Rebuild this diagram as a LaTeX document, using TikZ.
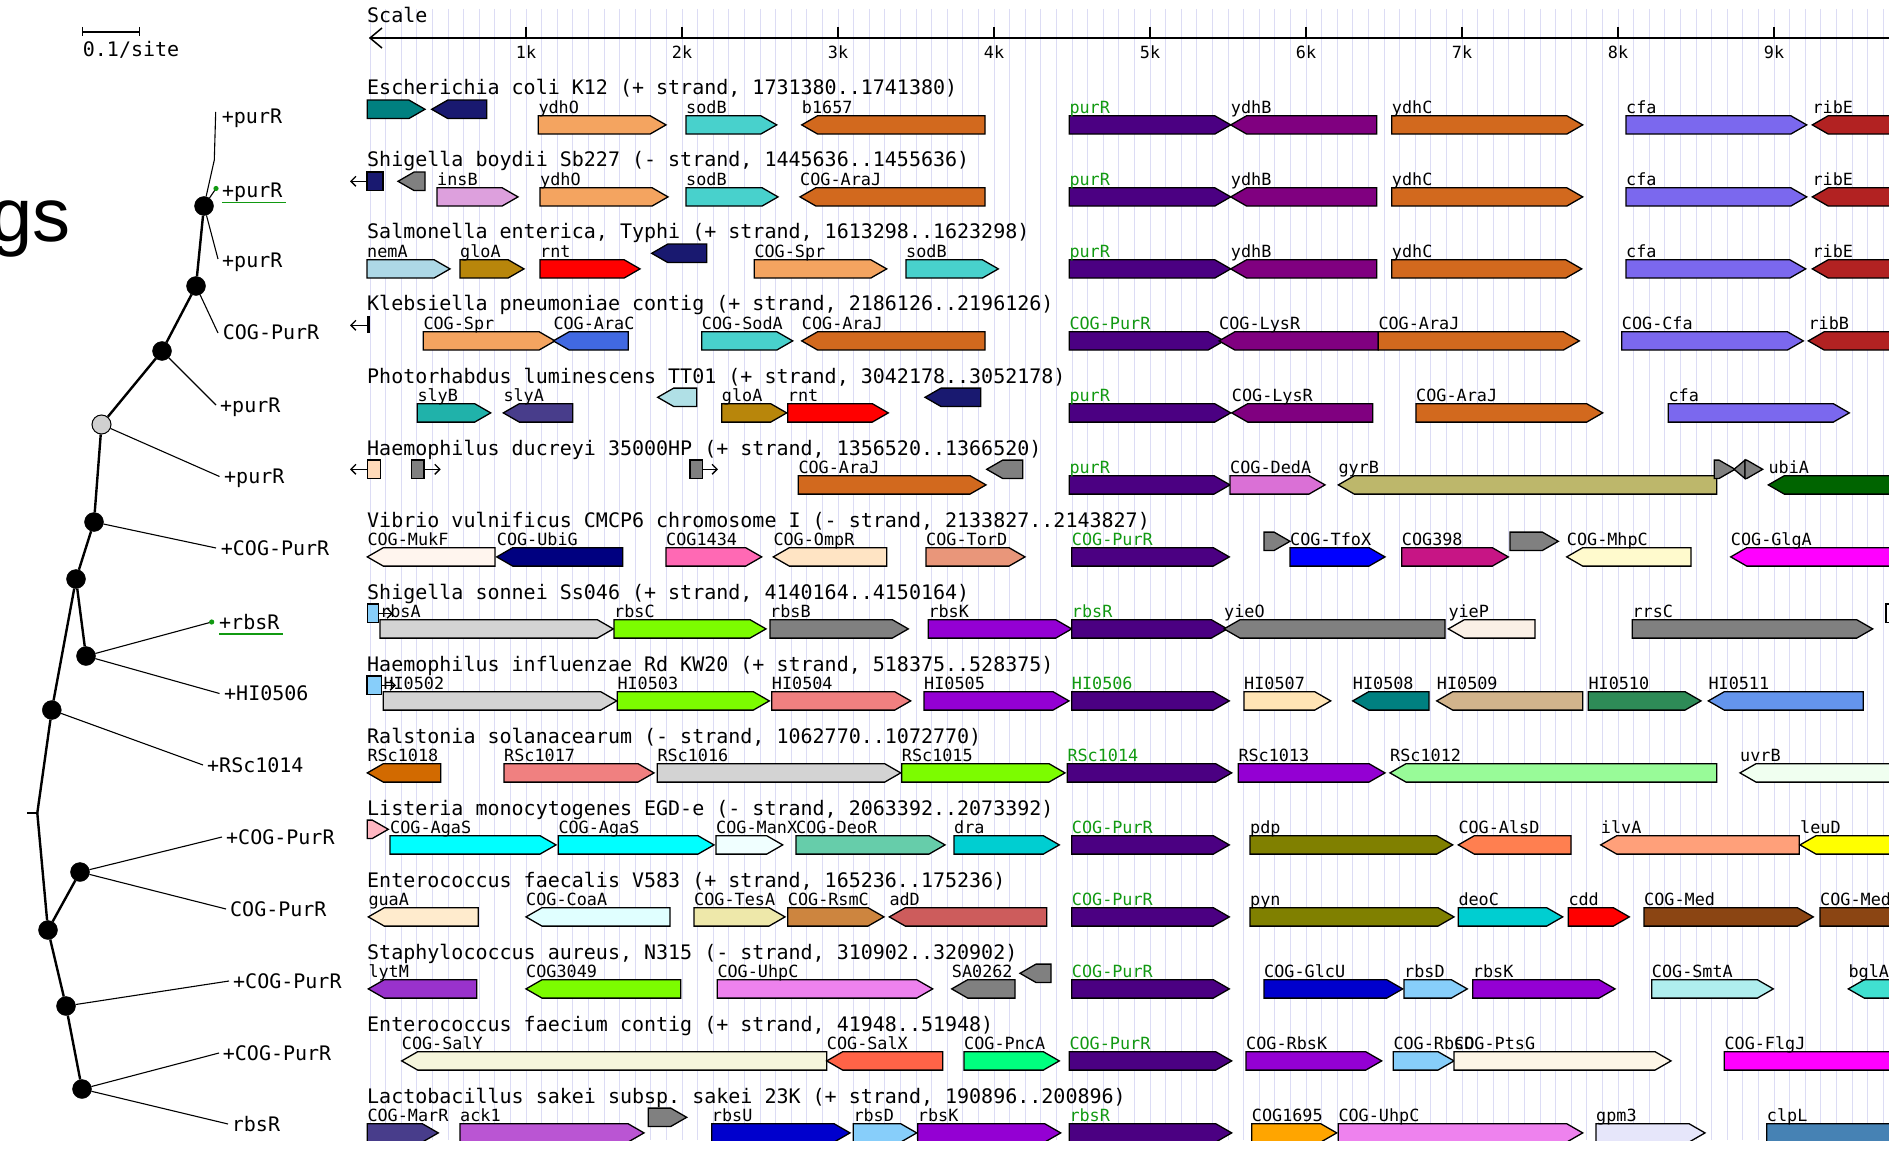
\documentclass[tikz,border=0pt]{standalone}
\usepackage{fontspec}
\setmonofont{DejaVu Sans Mono}
\newfontfamily\bigsans{Liberation Sans}
\usetikzlibrary{arrows.meta}
\definecolor{gridc}{HTML}{DCDCF4}
\definecolor{cgreen}{HTML}{119911}
\definecolor{cteal}{HTML}{008080}
\definecolor{cmidnight}{HTML}{191970}
\definecolor{csandy}{HTML}{F4A460}
\definecolor{cmturq}{HTML}{48D1CC}
\definecolor{cchoc}{HTML}{D2691E}
\definecolor{cindigo}{HTML}{4B0082}
\definecolor{cpurple}{HTML}{800080}
\definecolor{cmslate}{HTML}{7B68EE}
\definecolor{cfire}{HTML}{B22222}
\definecolor{cplum}{HTML}{DDA0DD}
\definecolor{cgray}{HTML}{808080}
\definecolor{clblue}{HTML}{ADD8E6}
\definecolor{cdgold}{HTML}{B8860B}
\definecolor{cred}{HTML}{FF0000}
\definecolor{croyal}{HTML}{4169E1}
\definecolor{clsea}{HTML}{20B2AA}
\definecolor{cdslate}{HTML}{483D8B}
\definecolor{cpowder}{HTML}{B0E0E6}
\definecolor{cpeach}{HTML}{FFDAB9}
\definecolor{corchid}{HTML}{DA70D6}
\definecolor{cdkhaki}{HTML}{BDB76B}
\definecolor{cdgreen}{HTML}{006400}
\definecolor{cseash}{HTML}{FFF5EE}
\definecolor{cnavy}{HTML}{000080}
\definecolor{chotp}{HTML}{FF69B4}
\definecolor{cbisque}{HTML}{FFE4C4}
\definecolor{cdsalm}{HTML}{E9967A}
\definecolor{cblue}{HTML}{0000FF}
\definecolor{cmvr}{HTML}{C71585}
\definecolor{clemon}{HTML}{FFFACD}
\definecolor{cmagenta}{HTML}{FF00FF}
\definecolor{clsky}{HTML}{87CEFA}
\definecolor{clgray}{HTML}{D3D3D3}
\definecolor{clawn}{HTML}{7CFC00}
\definecolor{cdviolet}{HTML}{9400D3}
\definecolor{clinen}{HTML}{FAF0E6}
\definecolor{clcoral}{HTML}{F08080}
\definecolor{cmocc}{HTML}{FFE4B5}
\definecolor{ctan}{HTML}{D2B48C}
\definecolor{cseag}{HTML}{2E8B57}
\definecolor{ccornf}{HTML}{6495ED}
\definecolor{cpaleg}{HTML}{98FB98}
\definecolor{choney}{HTML}{F0FFF0}
\definecolor{clpink}{HTML}{FFB6C1}
\definecolor{ccyan}{HTML}{00FFFF}
\definecolor{cazure}{HTML}{F0FFFF}
\definecolor{cmaqua}{HTML}{66CDAA}
\definecolor{cdturq}{HTML}{00CED1}
\definecolor{colive}{HTML}{808000}
\definecolor{ccoral}{HTML}{FF7F50}
\definecolor{clsalm}{HTML}{FFA07A}
\definecolor{cyellow}{HTML}{FFFF00}
\definecolor{cblanch}{HTML}{FFEBCD}
\definecolor{clcyan}{HTML}{E0FFFF}
\definecolor{cpgold}{HTML}{EEE8AA}
\definecolor{cperu}{HTML}{CD853F}
\definecolor{cindred}{HTML}{CD5C5C}
\definecolor{csbrown}{HTML}{8B4513}
\definecolor{cdorch}{HTML}{9932CC}
\definecolor{cviolet}{HTML}{EE82EE}
\definecolor{cmblue}{HTML}{0000CD}
\definecolor{cpturq}{HTML}{AFEEEE}
\definecolor{cturq}{HTML}{40E0D0}
\definecolor{cbeige}{HTML}{F5F5DC}
\definecolor{ctomato}{HTML}{FF6347}
\definecolor{cspring}{HTML}{00FF7F}
\definecolor{coldl}{HTML}{FDF5E6}
\definecolor{cmorch}{HTML}{BA55D3}
\definecolor{corange}{HTML}{FFA500}
\definecolor{clavender}{HTML}{E6E6FA}
\definecolor{csteel}{HTML}{4682B4}
\definecolor{crsor}{HTML}{D26A00}
\definecolor{cnodeg}{HTML}{D0D0D0}
\newcounter{glc}
\tikzset{
  gene/.style={draw=black,line width=1.3pt,line join=miter},
  glab/.style={font=\ttfamily\fontsize{16.8}{18}\selectfont,inner sep=0pt,anchor=base west},
  ttl/.style={font=\ttfamily\fontsize{20}{22}\selectfont,inner sep=0pt,anchor=base west},
  tlab/.style={ttl},
  tnode/.style={circle,fill=black,draw=black,minimum size=19pt,inner sep=0pt},
  tnodeg/.style={tnode,fill=cnodeg,line width=1pt},
  tedge/.style={line width=2.4pt},
  ledge/.style={line width=1.1pt},
  gridln/.style={draw=gridc,line width=1pt},
  marr/.style={line width=1.3pt,-{Straight Barb[length=5pt,width=10pt]}},
  axisln/.style={line width=1.5pt},
}
\newcommand\shR[4]{\pgfmathsetmacro\gtl{min(16,(#2)-(#1))}%
  \filldraw[gene,fill=#4] (#1,#3-9.2) -- ({#2-\gtl},#3-9.2) -- (#2,#3) -- ({#2-\gtl},#3+9.2) -- (#1,#3+9.2) -- cycle;}
\newcommand\shL[4]{\pgfmathsetmacro\gtl{min(16,(#2)-(#1))}%
  \filldraw[gene,fill=#4] (#2,#3-9.2) -- ({#1+\gtl},#3-9.2) -- (#1,#3) -- ({#1+\gtl},#3+9.2) -- (#2,#3+9.2) -- cycle;}
\newcommand\GR[6][black]{\pgfmathsetmacro\gyt{15.3+72*#2}\shR{#3}{#4}{\gyt+37.6}{#5}%
  \stepcounter{glc}\node[glab,text=#1] (g\arabic{glc}) at (#3,\gyt+26.3) {#6};}
\newcommand\GL[6][black]{\pgfmathsetmacro\gyt{15.3+72*#2}\shL{#3}{#4}{\gyt+37.6}{#5}%
  \stepcounter{glc}\node[glab,text=#1] (g\arabic{glc}) at (#3,\gyt+26.3) {#6};}
\newcommand\UR[4]{\pgfmathsetmacro\gyt{15.3+72*#1}\shR{#2}{#3}{\gyt+22}{#4}}
\newcommand\UL[4]{\pgfmathsetmacro\gyt{15.3+72*#1}\shL{#2}{#3}{\gyt+22}{#4}}
\newcommand\UB[4]{\pgfmathsetmacro\gyt{15.3+72*#1}\filldraw[gene,fill=#4] (#2,\gyt+12.8) rectangle (#3,\gyt+31.2);}
\newcommand\LA[1]{\pgfmathsetmacro\gyt{15.3+72*#1}\draw[marr] (367,\gyt+22) -- (350,\gyt+22);}
\newcommand\RA[3]{\pgfmathsetmacro\gyt{15.3+72*#1}\draw[marr] (#2,\gyt+22) -- (#3,\gyt+22);}
\begin{document}
\begin{tikzpicture}[x=1pt,y=-1pt]
\useasboundingbox (0,0) rectangle (1889,1155);
\fill[white] (0,0) rectangle (1889,1155);
% big cut-off slide text
\node[anchor=base east,inner sep=0pt,font=\bigsans\fontsize{76}{80}\selectfont] (gs) at (70.8,242) {gs};
% grid lines
\foreach \i in {0,...,97} \draw[gridln] ({370+15.6*\i},9) -- ({370+15.6*\i},1140);
% scale axis
\node[ttl] (scl) at (367,23) {Scale};
\draw[axisln] (382,28) -- (370,38) -- (382,48);
\draw[axisln] (370,38) -- (1889,38);
\foreach \k in {1,...,9} {
  \draw[axisln] ({370+156*\k},27) -- ({370+156*\k},39);
  \node[glab,anchor=base] (tk\k) at ({370+156*\k},59) {\k k};
}
% titles
\node[ttl] (t1) at (367,95) {Escherichia coli K12 (+ strand, 1731380..1741380)};
\node[ttl] (t2) at (367,167) {Shigella boydii Sb227 (- strand, 1445636..1455636)};
\node[ttl] (t3) at (367,239) {Salmonella enterica, Typhi (+ strand, 1613298..1623298)};
\node[ttl] (t4) at (367,311) {Klebsiella pneumoniae contig (+ strand, 2186126..2196126)};
\node[ttl] (t5) at (367,383) {Photorhabdus luminescens TT01 (+ strand, 3042178..3052178)};
\node[ttl] (t6) at (367,455) {Haemophilus ducreyi 35000HP (+ strand, 1356520..1366520)};
\node[ttl] (t7) at (367,527) {Vibrio vulnificus CMCP6 chromosome I (- strand, 2133827..2143827)};
\node[ttl] (t8) at (367,599) {Shigella sonnei Ss046 (+ strand, 4140164..4150164)};
\node[ttl] (t9) at (367,671) {Haemophilus influenzae Rd KW20 (+ strand, 518375..528375)};
\node[ttl] (t10) at (367,743) {Ralstonia solanacearum (- strand, 1062770..1072770)};
\node[ttl] (t11) at (367,815) {Listeria monocytogenes EGD-e (- strand, 2063392..2073392)};
\node[ttl] (t12) at (367,887) {Enterococcus faecalis V583 (+ strand, 165236..175236)};
\node[ttl] (t13) at (367,959) {Staphylococcus aureus, N315 (- strand, 310902..320902)};
\node[ttl] (t14) at (367,1031) {Enterococcus faecium contig (+ strand, 41948..51948)};
\node[ttl] (t15) at (367,1103) {Lactobacillus sakei subsp. sakei 23K (+ strand, 190896..200896)};
\begin{scope}
\clip (300,0) rectangle (1889,1140);
% row 1
\UR{1}{367.3}{425}{cteal}
\UL{1}{431.7}{486.7}{cmidnight}
\GR{1}{538.3}{666}{csandy}{ydhO}
\GR{1}{686}{776.7}{cmturq}{sodB}
\GL{1}{801.7}{985}{cchoc}{b1657}
\GR[cgreen]{1}{1069.3}{1230.7}{cindigo}{purR}
\GL{1}{1230.7}{1376.7}{cpurple}{ydhB}
\GR{1}{1391.7}{1582.7}{cchoc}{ydhC}
\GR{1}{1626}{1806.7}{cmslate}{cfa}
\GL{1}{1812.3}{2000}{cfire}{ribE}
% row 2
\LA{2}
\UB{2}{367}{383}{cmidnight}
\UL{2}{398}{425}{cgray}
\GR{2}{437}{518}{cplum}{insB}
\GR{2}{540}{668}{csandy}{ydhO}
\GR{2}{686}{778}{cmturq}{sodB}
\GL{2}{800}{985}{cchoc}{COG-AraJ}
\GR[cgreen]{2}{1069.3}{1230.7}{cindigo}{purR}
\GL{2}{1230.7}{1376.7}{cpurple}{ydhB}
\GR{2}{1391.7}{1582.7}{cchoc}{ydhC}
\GR{2}{1626}{1806.7}{cmslate}{cfa}
\GL{2}{1812.3}{2000}{cfire}{ribE}
% row 3
\GR{3}{367}{450}{clblue}{nemA}
\GR{3}{460}{524}{cdgold}{gloA}
\GR{3}{540}{640}{cred}{rnt}
\UL{3}{651.7}{706.7}{cmidnight}
\GR{3}{754.3}{886.7}{csandy}{COG-Spr}
\GR{3}{906}{998.3}{cmturq}{sodB}
\GR[cgreen]{3}{1069.3}{1230.7}{cindigo}{purR}
\GL{3}{1230.7}{1376.7}{cpurple}{ydhB}
\GR{3}{1391.7}{1581.7}{cchoc}{ydhC}
\GR{3}{1626}{1805.7}{cmslate}{cfa}
\GL{3}{1812.3}{2000}{cfire}{ribE}
% row 4
\LA{4}
\draw[line width=2.6pt] (368.5,316) -- (368.5,333);
\GR{4}{423.3}{555}{csandy}{COG-Spr}
\GL{4}{553.3}{628.3}{croyal}{COG-AraC}
\GR{4}{701.7}{792.7}{cmturq}{COG-SodA}
\GL{4}{801.7}{985}{cchoc}{COG-AraJ}
\GR[cgreen]{4}{1069.3}{1224}{cindigo}{COG-PurR}
\GL{4}{1219}{1378.3}{cpurple}{COG-LysR}
\GR{4}{1378.3}{1579.3}{cchoc}{COG-AraJ}
\GR{4}{1621.7}{1803.3}{cmslate}{COG-Cfa}
\GL{4}{1808.3}{2000}{cfire}{ribB}
% row 5
\GR{5}{417.3}{490.7}{clsea}{slyB}
\GL{5}{503.3}{572.7}{cdslate}{slyA}
\UL{5}{657.7}{696.7}{cpowder}
\GR{5}{721.7}{786.7}{cdgold}{gloA}
\GR{5}{787.7}{888.3}{cred}{rnt}
\UL{5}{925}{980.7}{cmidnight}
\GR[cgreen]{5}{1069.3}{1230.7}{cindigo}{purR}
\GL{5}{1231.7}{1372.7}{cpurple}{COG-LysR}
\GR{5}{1416}{1602.7}{cchoc}{COG-AraJ}
\GR{5}{1668.3}{1849.3}{cmslate}{cfa}
% row 6
\LA{6}
\UB{6}{367.3}{380.7}{cpeach}
\UB{6}{411.7}{424}{cgray}
\RA{6}{424}{440.7}
\UB{6}{690}{702.3}{cgray}
\RA{6}{702.3}{718}
\GR{6}{798.3}{986}{cchoc}{COG-AraJ}
\UL{6}{986.7}{1022.7}{cgray}
\GR[cgreen]{6}{1069.3}{1230}{cindigo}{purR}
\GR{6}{1230}{1325}{corchid}{COG-DedA}
\GL{6}{1338.3}{1716.7}{cdkhaki}{gyrB}
\UR{6}{1714.3}{1735}{cgray}
\UL{6}{1734}{1745}{cgray}
\UR{6}{1745}{1762.7}{cgray}
\GL{6}{1768.3}{2000}{cdgreen}{ubiA}
% row 7
\GL{7}{367.3}{495}{cseash}{COG-MukF}
\GL{7}{496.7}{622.7}{cnavy}{COG-UbiG}
\GR{7}{666}{761.7}{chotp}{COG1434}
\GL{7}{773.3}{886.7}{cbisque}{COG-OmpR}
\GR{7}{926}{1025}{cdsalm}{COG-TorD}
\GR[cgreen]{7}{1071.7}{1229.3}{cindigo}{COG-PurR}
\UR{7}{1264}{1290}{cgray}
\GR{7}{1290}{1385}{cblue}{COG-TfoX}
\GR{7}{1401.7}{1508.3}{cmvr}{COG398}
\UR{7}{1510}{1558.3}{cgray}
\GL{7}{1566.7}{1691}{clemon}{COG-MhpC}
\GL{7}{1730.7}{2000}{cmagenta}{COG-GlgA}
% row 8
\UB{8}{367.3}{378.3}{clsky}
\GR{8}{380}{613.3}{clgray}{rbsA}
\RA{8}{378.3}{393}
\GR{8}{614}{766}{clawn}{rbsC}
\GR{8}{770}{908.3}{cgray}{rbsB}
\GR{8}{928.3}{1071.7}{cdviolet}{rbsK}
\GR[cgreen]{8}{1071.7}{1227.3}{cindigo}{rbsR}
\GL{8}{1224}{1445}{cgray}{yieO}
\GL{8}{1448.3}{1535}{clinen}{yieP}
\GR{8}{1632.3}{1872.7}{cgray}{rrsC}
\UB{8}{1886}{1900}{white}
% row 9
\UB{9}{367}{381.7}{clsky}
\GR{9}{383.3}{616.7}{clgray}{HI0502}
\RA{9}{381.7}{396}
\GR{9}{617.3}{769.3}{clawn}{HI0503}
\GR{9}{771.7}{910.7}{clcoral}{HI0504}
\GR{9}{924}{1069}{cdviolet}{HI0505}
\GR[cgreen]{9}{1071.7}{1229.3}{cindigo}{HI0506}
\GR{9}{1244}{1330.7}{cmocc}{HI0507}
\GL{9}{1352.7}{1429}{cteal}{HI0508}
\GL{9}{1436.7}{1582.7}{ctan}{HI0509}
\GR{9}{1588.3}{1701}{cseag}{HI0510}
\GL{9}{1708.3}{1863.3}{ccornf}{HI0511}
% row 10
\GL{10}{367.3}{440.7}{crsor}{RSc1018}
\GR{10}{504}{654}{clcoral}{RSc1017}
\GR{10}{657.3}{900.7}{clgray}{RSc1016}
\GR{10}{901.7}{1065}{clawn}{RSc1015}
\GR[cgreen]{10}{1067.3}{1231.7}{cindigo}{RSc1014}
\GR{10}{1238.3}{1385}{cdviolet}{RSc1013}
\GL{10}{1390}{1716.7}{cpaleg}{RSc1012}
\GL{10}{1740}{2000}{choney}{uvrB}
% row 11
\UR{11}{367.3}{388.3}{clpink}
\GR{11}{390}{556}{ccyan}{COG-AgaS}
\GR{11}{558.3}{714}{ccyan}{COG-AgaS}
\GR{11}{716}{782.7}{cazure}{COG-ManX}
\GR{11}{796}{945}{cmaqua}{COG-DeoR}
\GR{11}{954}{1059.3}{cdturq}{dra}
\GR[cgreen]{11}{1071.7}{1229.3}{cindigo}{COG-PurR}
\GR{11}{1250}{1452.7}{colive}{pdp}
\GL{11}{1458.3}{1571}{ccoral}{COG-AlsD}
\GL{11}{1600.7}{1799.3}{clsalm}{ilvA}
\GL{11}{1800}{2000}{cyellow}{leuD}
% row 12
\GL{12}{368.3}{478.3}{cblanch}{guaA}
\GL{12}{526}{670}{clcyan}{COG-CoaA}
\GR{12}{694}{785}{cpgold}{COG-TesA}
\GR{12}{787.7}{884}{cperu}{COG-RsmC}
\GL{12}{889.3}{1046.7}{cindred}{adD}
\GR[cgreen]{12}{1071.7}{1229.3}{cindigo}{COG-PurR}
\GR{12}{1250}{1454}{colive}{pyn}
\GR{12}{1458.3}{1562.7}{cdturq}{deoC}
\GR{12}{1568.3}{1629.3}{cred}{cdd}
\GR{12}{1644}{1813.3}{csbrown}{COG-Med}
\GR{12}{1820}{2000}{csbrown}{COG-Med}
% row 13
\GL{13}{368.3}{476.7}{cdorch}{lytM}
\GL{13}{526}{680.7}{clawn}{COG3049}
\GR{13}{717.3}{932.7}{cviolet}{COG-UhpC}
\GL{13}{951.7}{1015}{cgray}{SA0262}
\UL{13}{1020}{1051}{cgray}
\GR[cgreen]{13}{1071.7}{1229.3}{cindigo}{COG-PurR}
\GR{13}{1264}{1402.7}{cmblue}{COG-GlcU}
\GR{13}{1404}{1467.3}{clsky}{rbsD}
\GR{13}{1472.7}{1615}{cdviolet}{rbsK}
\GR{13}{1651.7}{1773.3}{cpturq}{COG-SmtA}
\GL{13}{1848.3}{2000}{cturq}{bglA}
% row 14
\GL{14}{401.7}{826.7}{cbeige}{COG-SalY}
\GL{14}{826.7}{942.7}{ctomato}{COG-SalX}
\GR{14}{964}{1059.3}{cspring}{COG-PncA}
\GR[cgreen]{14}{1069.3}{1231.7}{cindigo}{COG-PurR}
\GR{14}{1246}{1381.7}{cdviolet}{COG-RbsK}
\GR{14}{1393.3}{1454}{clsky}{COG-RbsD}
\GR{14}{1454}{1671}{coldl}{COG-PtsG}
\GR{14}{1724.3}{2000}{cmagenta}{COG-FlgJ}
% row 15
\GR{15}{367.3}{438.3}{cdslate}{COG-MarR}
\GR{15}{460}{644}{cmorch}{ack1}
\UR{15}{648.3}{686.7}{cgray}
\GR{15}{711.7}{850}{cmblue}{rbsU}
\GR{15}{853.3}{916.7}{clsky}{rbsD}
\GR{15}{917.7}{1060.7}{cdviolet}{rbsK}
\GR[cgreen]{15}{1069.3}{1231.7}{cindigo}{rbsR}
\GR{15}{1251.7}{1336.7}{corange}{COG1695}
\GR{15}{1338.3}{1582.7}{cviolet}{COG-UhpC}
\GR{15}{1596}{1705}{clavender}{gpm3}
\GR{15}{1766.7}{2000}{csteel}{clpL}
\end{scope}
% ---------------- tree ----------------
\draw[line width=1.3pt] (82.7,32) -- (139.3,32);
\draw[line width=1.3pt] (82.7,27) -- (82.7,36);
\draw[line width=1.3pt] (139.3,27) -- (139.3,36);
\node[ttl] (sbar) at (82.7,57) {0.1/site};
% tree labels
\node[tlab] (L1) at (221.7,124) {+purR};
\node[tlab] (L2) at (222,197.5) {+purR};
\node[tlab] (L3) at (222,268) {+purR};
\node[tlab] (L4) at (222.7,340) {COG-PurR};
\node[tlab] (L5) at (220,412) {+purR};
\node[tlab] (L6) at (224,483.5) {+purR};
\node[tlab] (L7) at (220.7,555.5) {+COG-PurR};
\node[tlab] (L8) at (219,629) {+rbsR};
\node[tlab] (L9) at (224,700.5) {+HI0506};
\node[tlab] (L10) at (207,772) {+RSc1014};
\node[tlab] (L11) at (226,844) {+COG-PurR};
\node[tlab] (L12) at (230,916) {COG-PurR};
\node[tlab] (L13) at (233,988) {+COG-PurR};
\node[tlab] (L14) at (222.7,1060) {+COG-PurR};
\node[tlab] (L15) at (231.7,1131.5) {rbsR};
\draw[cgreen,line width=1.3pt] ([yshift=-5pt]L2.base west) -- ([xshift=3pt,yshift=-5pt]L2.base east);
\draw[cgreen,line width=1.3pt] ([yshift=-5pt]L8.base west) -- ([xshift=3pt,yshift=-5pt]L8.base east);
% leaf ends
\coordinate (e1) at (215.7,112);
\coordinate (k1) at (214.3,160);
\coordinate (e2) at (216,188.5);
\coordinate (e3) at (218,259);
\coordinate (e4) at (218,333);
\coordinate (e5) at (216,405);
\coordinate (e6) at (219.5,476.5);
\coordinate (e7) at (216,548);
\coordinate (e8) at (211.7,622);
\coordinate (e9) at (219.5,693.5);
\coordinate (e10) at (203,765);
\coordinate (e11) at (222,837);
\coordinate (e12) at (226,909);
\coordinate (e13) at (229,981);
\coordinate (e14) at (219,1053);
\coordinate (e15) at (228,1124);
% internal nodes
\coordinate (root) at (37.3,813);
\coordinate (rtick) at (27,813);
\node[tnode] (n1) at (204,206) {};
\node[tnode] (n2) at (196,286) {};
\node[tnode] (n3) at (162,351) {};
\node[tnodeg] (n4) at (101.5,424.5) {};
\node[tnode] (n5) at (94,522) {};
\node[tnode] (n6) at (76,579) {};
\node[tnode] (n7) at (86,656) {};
\node[tnode] (n8) at (51.8,710) {};
\node[tnode] (n9) at (80,872) {};
\node[tnode] (n10) at (48,930) {};
\node[tnode] (n11) at (66,1006) {};
\node[tnode] (n12) at (82,1089) {};
% internal edges
\draw[tedge] (rtick) -- (root);
\draw[tedge] (root) -- (n8);
\draw[tedge] (n8) -- (n6);
\draw[tedge] (n6) -- (n5);
\draw[tedge] (n6) -- (n7);
\draw[tedge] (n5) -- (n4);
\draw[tedge] (n4) -- (n3);
\draw[tedge] (n3) -- (n2);
\draw[tedge] (n2) -- (n1);
\draw[tedge] (root) -- (n10);
\draw[tedge] (n10) -- (n9);
\draw[tedge] (n10) -- (n11);
\draw[tedge] (n11) -- (n12);
% leaf edges
\draw[ledge] (n1) -- (k1) -- (e1);
\draw[ledge] (n1) -- (e2);
\draw[ledge] (n1) -- (e3);
\draw[ledge] (n2) -- (e4);
\draw[ledge] (n3) -- (e5);
\draw[ledge] (n4) -- (e6);
\draw[ledge] (n5) -- (e7);
\draw[ledge] (n7) -- (e8);
\draw[ledge] (n7) -- (e9);
\draw[ledge] (n8) -- (e10);
\draw[ledge] (n9) -- (e11);
\draw[ledge] (n9) -- (e12);
\draw[ledge] (n11) -- (e13);
\draw[ledge] (n12) -- (e14);
\draw[ledge] (n12) -- (e15);
\fill[cgreen] (e2) circle (2.6);
\fill[cgreen] (e8) circle (2.6);
\end{tikzpicture}
\end{document}
